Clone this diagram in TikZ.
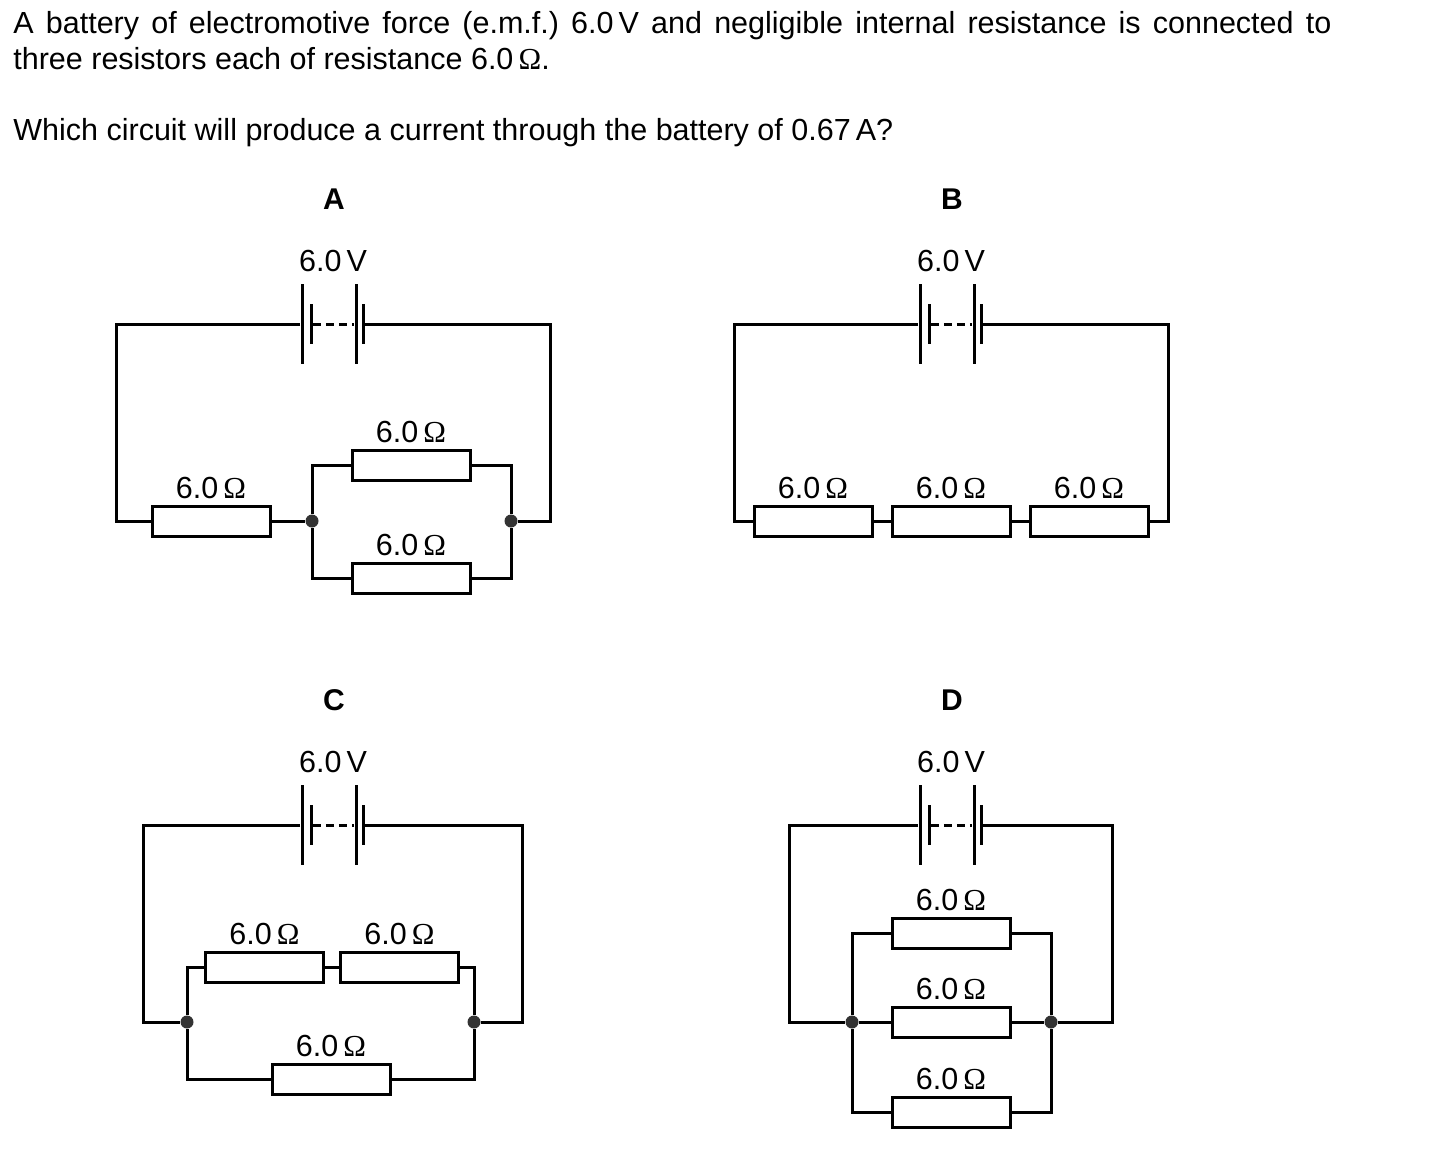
\documentclass[tikz,border=0pt]{standalone}
\usepackage{fontspec}
\setmainfont{Liberation Sans}
\newfontfamily\omegafont{Liberation Serif}
\newcommand{\ohm}{6.0\,{\omegafont Ω}}
\frenchspacing
\begin{document}
\begin{tikzpicture}
[x=0.5pt,y=-0.5pt,
  wiredecorate/.style={line width=1.5pt,line join=miter},
  textdecorate/.style={anchor=north west,inner sep=0pt,text width=659pt,align=justify,font=\fontsize{15.25}{18}\selectfont},
  resdecorate/.style={shape=rectangle,draw,line width=1.5pt,fill=white,inner sep=0pt,minimum width=59pt,minimum height=15pt},
  valdecorate/.style={above,inner sep=2.5pt,font=\fontsize{15.25}{17}\selectfont},
  jointdecorate/.style={shape=circle,fill=black!80,inner sep=0pt,minimum size=6.5pt},
  tallplate/.style={shape=rectangle,fill=black,inner sep=0pt,minimum width=1.5pt,minimum height=40pt},
  shortplate/.style={shape=rectangle,fill=black,inner sep=0pt,minimum width=1.5pt,minimum height=20pt}]
\useasboundingbox (0,0) rectangle (1434,1151);
% question text
\node (para1) at (13,11) [textdecorate] {A battery of electromotive force (e.m.f.) 6.0\,V and negligible internal resistance is connected to\linebreak three resistors each of resistance \ohm.};
\node (para2) at (13,118) [textdecorate] {Which circuit will produce a current through the battery of 0.67\,A?};
% batteries and headings
\foreach \cname/\cx/\cy/\hy in {A/333/324/199,B/951/324/199,C/333/825/700,D/951/825/700}{
  \node (\cname head) at (\cx+1,\hy) [font=\fontsize{15}{17}\selectfont\bfseries] {\cname};
  \node (\cname volt) at (\cx,\cy-63) [font=\fontsize{15.25}{17}\selectfont] {6.0\,V};
  \node (\cname a) at (\cx-31,\cy) [tallplate] {};
  \node (\cname b) at (\cx-22,\cy) [shortplate] {};
  \node (\cname c) at (\cx+23,\cy) [tallplate] {};
  \node (\cname d) at (\cx+30,\cy) [shortplate] {};
  \draw[wiredecorate,dashed,dash pattern=on 4pt off 2.5pt] (\cname b.east) -- (\cname c.west);
}
% circuit A
\coordinate (Atl) at (116,324);
\coordinate (Atr) at (550,324);
\node (Ar1) at (211,521) [resdecorate] {};
\node (Ar2) at (411,465) [resdecorate] {};
\node (Ar3) at (411,578) [resdecorate] {};
\node (Aj1) at (312,521) [jointdecorate] {};
\node (Aj2) at (511,521) [jointdecorate] {};
\node (Av1) at (Ar1.north) [valdecorate] {\ohm};
\node (Av2) at (Ar2.north) [valdecorate] {\ohm};
\node (Av3) at (Ar3.north) [valdecorate] {\ohm};
\draw[wiredecorate] (Aa.west) -- (Atl) |- (Ar1.west);
\draw[wiredecorate] (Ad.east) -- (Atr) |- (Aj2);
\draw[wiredecorate] (Ar1.east) -- (Aj1);
\draw[wiredecorate] (Aj1) |- (Ar2.west);
\draw[wiredecorate] (Aj1) |- (Ar3.west);
\draw[wiredecorate] (Ar2.east) -| (Aj2);
\draw[wiredecorate] (Ar3.east) -| (Aj2);
% circuit B
\coordinate (Btl) at (734,324);
\coordinate (Btr) at (1168,324);
\node (Br1) at (813,521) [resdecorate] {};
\node (Br2) at (951,521) [resdecorate] {};
\node (Br3) at (1089,521) [resdecorate] {};
\node (Bv1) at (Br1.north) [valdecorate] {\ohm};
\node (Bv2) at (Br2.north) [valdecorate] {\ohm};
\node (Bv3) at (Br3.north) [valdecorate] {\ohm};
\draw[wiredecorate] (Ba.west) -- (Btl) |- (Br1.west);
\draw[wiredecorate] (Bd.east) -- (Btr) |- (Br3.east);
\draw[wiredecorate] (Br1.east) -- (Br2.west);
\draw[wiredecorate] (Br2.east) -- (Br3.west);
% circuit C
\coordinate (Ctl) at (143,825);
\coordinate (Ctr) at (522,825);
\node (Cr1) at (264.5,967) [resdecorate] {};
\node (Cr2) at (399.5,967) [resdecorate] {};
\node (Cr3) at (331,1079) [resdecorate] {};
\node (Cj1) at (187,1022) [jointdecorate] {};
\node (Cj2) at (474,1022) [jointdecorate] {};
\node (Cv1) at (Cr1.north) [valdecorate] {\ohm};
\node (Cv2) at (Cr2.north) [valdecorate] {\ohm};
\node (Cv3) at (Cr3.north) [valdecorate] {\ohm};
\draw[wiredecorate] (Ca.west) -- (Ctl) |- (Cj1);
\draw[wiredecorate] (Cd.east) -- (Ctr) |- (Cj2);
\draw[wiredecorate] (Cj1) |- (Cr1.west);
\draw[wiredecorate] (Cr1.east) -- (Cr2.west);
\draw[wiredecorate] (Cr2.east) -| (Cj2);
\draw[wiredecorate] (Cj1) |- (Cr3.west);
\draw[wiredecorate] (Cr3.east) -| (Cj2);
% circuit D
\coordinate (Dtl) at (789,825);
\coordinate (Dtr) at (1112,825);
\node (Dr1) at (951,933) [resdecorate] {};
\node (Dr2) at (951,1022) [resdecorate] {};
\node (Dr3) at (951,1112) [resdecorate] {};
\node (Dj1) at (852,1022) [jointdecorate] {};
\node (Dj2) at (1051,1022) [jointdecorate] {};
\node (Dv1) at (Dr1.north) [valdecorate] {\ohm};
\node (Dv2) at (Dr2.north) [valdecorate] {\ohm};
\node (Dv3) at (Dr3.north) [valdecorate] {\ohm};
\draw[wiredecorate] (Da.west) -- (Dtl) |- (Dj1);
\draw[wiredecorate] (Dd.east) -- (Dtr) |- (Dj2);
\draw[wiredecorate] (Dj1) |- (Dr1.west);
\draw[wiredecorate] (Dj1) -- (Dr2.west);
\draw[wiredecorate] (Dj1) |- (Dr3.west);
\draw[wiredecorate] (Dr1.east) -| (Dj2);
\draw[wiredecorate] (Dr2.east) -- (Dj2);
\draw[wiredecorate] (Dr3.east) -| (Dj2);
\end{tikzpicture}
\end{document}
